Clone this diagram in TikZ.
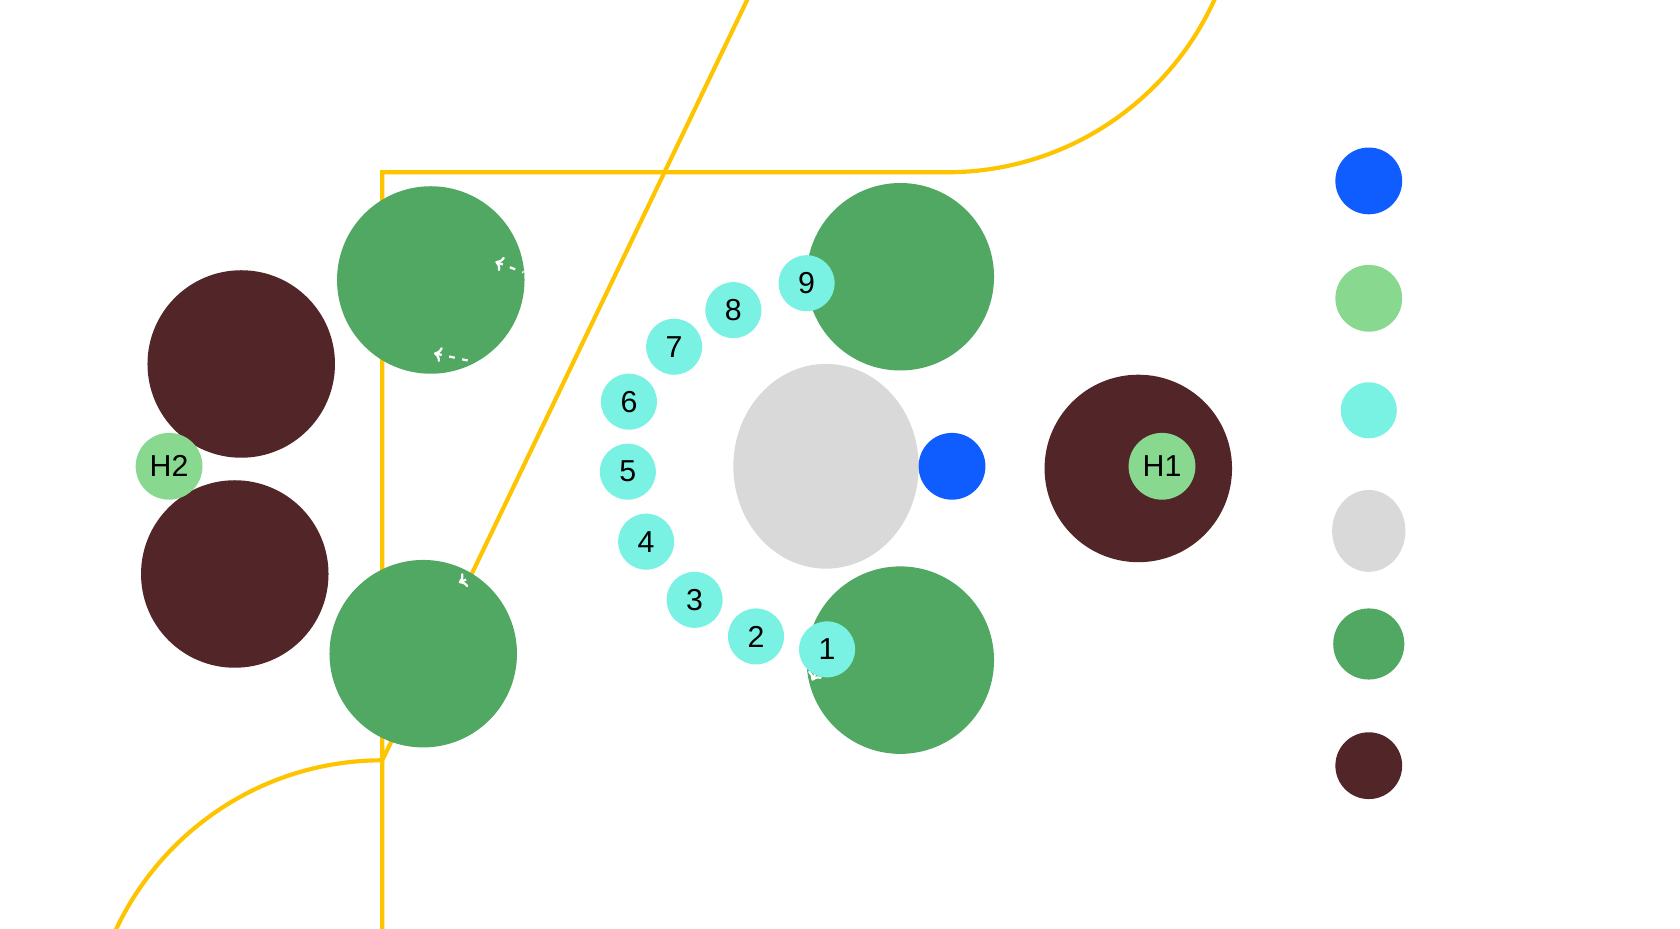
\documentclass[tikz,border=0pt]{standalone}
\usepackage{fontspec}
\setmainfont{Liberation Sans}
\definecolor{trackyellow}{HTML}{FFC400}
\definecolor{darkbrown}{HTML}{522628}
\definecolor{grassgreen}{HTML}{50A862}
\definecolor{lightgreen}{HTML}{88D98F}
\definecolor{aqua}{HTML}{7AF2E3}
\definecolor{royalblue}{HTML}{0F5CFF}
\definecolor{lightgray}{HTML}{D9D9D9}
\tikzset{
    tree/.style={circle, fill=darkbrown, minimum size=1.74cm, inner sep=0pt},
    bush/.style={circle, fill=grassgreen, minimum size=1.74cm, inner sep=0pt},
    hole/.style={circle, fill=lightgreen, minimum size=0.62cm, inner sep=0pt, font=\fontsize{8}{9}\selectfont},
    stop/.style={circle, fill=aqua, minimum size=0.52cm, inner sep=0pt, font=\fontsize{8}{9}\selectfont},
    ball/.style={circle, fill=royalblue, minimum size=0.62cm, inner sep=0pt},
    rock/.style={ellipse, fill=lightgray, inner sep=0pt},
    trail/.style={white, line width=0.6pt, dashed, dash pattern=on 1.5pt off 2pt, <-, >={To[length=2pt,width=4pt,open]}}
}
\usetikzlibrary{shapes.geometric, arrows.meta}
\begin{document}
\begin{tikzpicture}[x=0.01cm, y=-0.01cm]
    \useasboundingbox (0,0) rectangle (1560,862);

    % Pista
    \draw[trackyellow, line width=1.1pt] (355,160) -- (879,160) arc[start angle=90, end angle=-90, radius=273]
        -- (355,706) arc[start angle=270, end angle=90, radius=273] -- cycle;

    % Alberi e cespugli
    \node[tree] (tree_a) at (224,338) {};
    \node[tree] (tree_b) at (218,533) {};
    \node[tree] (tree_c) at (1057,435) {};
    \node[bush] (bush_a) at (400,260) {};
    \node[bush] (bush_b) at (393,607) {};
    \node[bush] (bush_c) at (836,257) {};
    \node[bush] (bush_d) at (836,613) {};

    % Scie tratteggiate
    \draw[trail] (460,243) -- (486,253);
    \draw[trail] (403,328) -- (440,336);
    \draw[trail] (426,541) -- (438,536);
    \draw[trail] (754,632) -- (757,626);

    % Centro
    \node[rock, minimum width=1.72cm, minimum height=1.9cm] (rock_mid) at (767,433) {};
    \node[ball] (ball_mid) at (884,433) {};
    \node[hole] (hole_2) at (157,433) {H2};
    \node[hole] (hole_1) at (1079,433) {H1};

    % Fermate numerate
    \foreach \n/\px/\py in {1/768/603, 2/702/591, 3/645/557, 4/600/503, 5/583/438,
                            6/584/373, 7/626/322, 8/681/288, 9/749/263}
        \node[stop] (stop_\n) at (\px,\py) {\n};

    % Legenda
    \node[ball] (leg_ball) at (1271,168) {};
    \node[hole] (leg_hole) at (1271,277) {};
    \node[stop] (leg_stop) at (1271,381) {};
    \node[rock, minimum width=0.68cm, minimum height=0.76cm] (leg_rock) at (1271,493) {};
    \node[bush, minimum size=0.66cm] (leg_bush) at (1271,598) {};
    \node[tree, minimum size=0.62cm] (leg_tree) at (1271,711) {};
\end{tikzpicture}
\end{document}
